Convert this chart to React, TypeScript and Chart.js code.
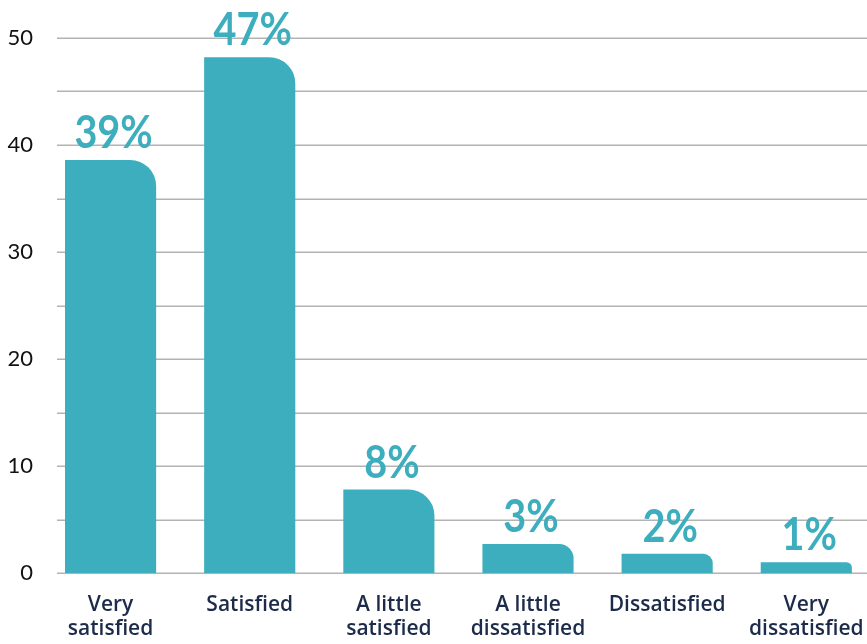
import React, { useEffect, useRef } from "react";
import { Chart, registerables } from "chart.js";

Chart.register(...registerables);

const categories: (string | string[])[] = [
  ["Very", "satisfied"],
  "Satisfied",
  ["A little", "satisfied"],
  ["A little", "dissatisfied"],
  "Dissatisfied",
  ["Very", "dissatisfied"],
];
const values: number[] = [38.6, 48.2, 7.8, 2.7, 1.8, 1.0];
const valueLabels: string[] = ["39%", "47%", "8%", "3%", "2%", "1%"];
const yMax = 50;
const yStep = 5;

const TEAL = "#3daebd";

const gridPlugin = {
  id: "customGrid",
  beforeDatasetsDraw(chart: any) {
    const { ctx, chartArea, scales } = chart;
    const y = scales.y;
    ctx.save();
    ctx.strokeStyle = "#b3b3b3";
    ctx.lineWidth = 1.5;
    y.ticks.forEach((t: any) => {
      const py = Math.round(y.getPixelForValue(t.value)) + 0.25;
      ctx.beginPath();
      ctx.moveTo(chartArea.left + 16, py);
      ctx.lineTo(chartArea.right + 20, py);
      ctx.stroke();
    });
    ctx.restore();
  },
};

const valueLabelPlugin = {
  id: "valueLabels",
  afterDatasetsDraw(chart: any) {
    const { ctx } = chart;
    const meta = chart.getDatasetMeta(0);
    ctx.save();
    ctx.fillStyle = TEAL;
    ctx.font = "bold 46px Lato";
    ctx.textAlign = "center";
    ctx.textBaseline = "alphabetic";
    meta.data.forEach((bar: any, i: number) => {
      ctx.save();
      ctx.translate(bar.x + 3, bar.y - 12);
      ctx.scale(0.86, 1);
      ctx.fillText(valueLabels[i], 0, 0);
      ctx.restore();
    });
    ctx.restore();
  },
};

export default function App() {
  const ref = useRef<HTMLCanvasElement>(null);
  useEffect(() => {
    if (!ref.current) return;
    const chart = new Chart(ref.current, {
      type: "bar",
      data: {
        labels: categories,
        datasets: [
          {
            data: values,
            backgroundColor: TEAL,
            borderRadius: { topRight: 26, topLeft: 0, bottomLeft: 0, bottomRight: 0 },
            borderSkipped: "start",
            categoryPercentage: 0.655,
            barPercentage: 1,
          },
        ],
      },
      options: {
        responsive: false,
        animation: false,
        layout: { padding: { top: 38, right: 5, left: 0, bottom: 0 } },
        plugins: { legend: { display: false }, tooltip: { enabled: false } },
        scales: {
          x: {
            grid: { display: false, drawTicks: false },
            border: { display: false },
            ticks: {
              color: "#1c2b4a",
              font: { family: "Open Sans", size: 21, weight: "600", lineHeight: 1.14 },
              padding: 20,
              maxRotation: 0,
              autoSkip: false,
            },
            afterFit(scale: any) {
              scale.height = 71;
            },
          },
          y: {
            min: 0,
            max: yMax,
            grid: { display: false, drawTicks: false },
            border: { display: false },
            ticks: {
              stepSize: yStep,
              color: "#111",
              font: { family: "Lato", size: 22 },
              padding: 8,
              callback: (v: any) => (Number(v) % 10 === 0 ? String(v) : ""),
            },
            afterFit(scale: any) {
              scale.width = 41;
            },
          },
        },
      },
      plugins: [gridPlugin, valueLabelPlugin],
    });
    return () => chart.destroy();
  }, []);
  return (
    <div
      style={{
        position: "fixed",
        left: 0,
        top: 0,
        width: 867,
        height: 644,
        overflow: "hidden",
        background: "#fff",
      }}
    >
      <canvas ref={ref} width={884} height={644} style={{ display: "block" }} />
    </div>
  );
}
